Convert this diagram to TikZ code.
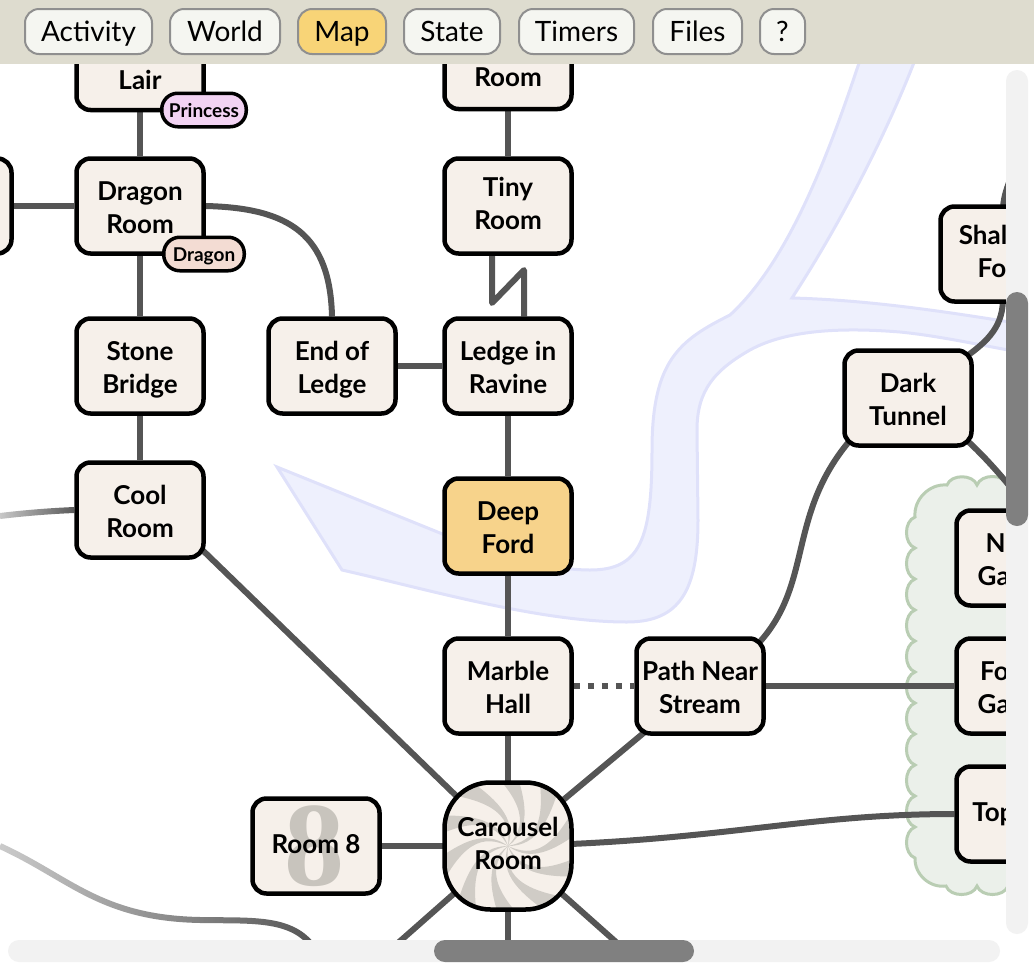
\documentclass[tikz,border=0pt]{standalone}
\usepackage{fontspec}
\setmainfont{Lato}
\newfontfamily\bigdigit{Liberation Serif}
\usetikzlibrary{positioning,calc,fadings}
\definecolor{roomfill}{HTML}{F6F0EA}
\definecolor{herefill}{HTML}{F7D38B}
\definecolor{linkgray}{HTML}{555555}
\definecolor{barfill}{HTML}{DEDCCF}
\definecolor{tabfill}{HTML}{F5F6F1}
\definecolor{tabedge}{HTML}{8F8F8F}
\definecolor{tabhere}{HTML}{F8D477}
\definecolor{tagpink}{HTML}{F2D3F3}
\definecolor{tagrose}{HTML}{F3DCD3}
\definecolor{riverfill}{HTML}{EEF0FD}
\definecolor{riveredge}{HTML}{DFE1FA}
\definecolor{gardenfill}{HTML}{EBF0EA}
\definecolor{gardenedge}{HTML}{B9CDB3}
\definecolor{swirl}{HTML}{D0CCC6}
\definecolor{eightgray}{HTML}{C8C4BD}
\definecolor{trackfill}{HTML}{F2F2F2}
\definecolor{thumbfill}{HTML}{808080}
\tikzfading[name=fadelink,left color=transparent!70,right color=transparent!0]
\pgfdeclarelayer{links}
\pgfsetlayers{links,main}
\tikzset{
  room/.style={draw=black,line width=4.5pt,fill=roomfill,rounded corners=14pt,minimum width=127pt,minimum height=95pt,inner sep=0pt,align=center,text height=58pt,text depth=4pt,font=\fontsize{26}{33}\selectfont\bfseries},
  oneline/.style={text height=22pt,text depth=8pt},
  link/.style={draw=linkgray,line width=6pt},
  tab/.style={draw=tabedge,line width=2pt,fill=tabfill,rounded corners=14pt,minimum height=45pt,inner sep=0pt,text height=25pt,text depth=6pt,font=\fontsize{28}{30}\selectfont},
  tag/.style={draw=black,line width=3.5pt,rounded corners=16pt,minimum height=33.5pt,inner sep=0pt,text height=19pt,text depth=5pt,font=\fontsize{19}{20}\selectfont\bfseries},
}
\begin{document}
\begin{tikzpicture}[x=1pt,y=-1pt]
\useasboundingbox (0,0) rectangle (1034,967);

% Rooms
\node[room] (lair) at (140,62.5) {\phantom{Lg}\\Lair};
\node[room,text depth=8pt] (topleft) at (508,61.5) {\phantom{Lg}\\Room};
\node[room] (west) at (-52,206) {};
\node[room] (dragon) at (140,206) {Dragon\\Room};
\node[room,text depth=12pt] (tiny) at (508,206) {Tiny\\Room};
\node[room] (stone) at (140,366) {Stone\\Bridge};
\node[room] (endledge) at (332,366) {End of\\Ledge};
\node[room] (ledge) at (508,366) {Ledge in\\Ravine};
\node[room] (cool) at (140,510) {Cool\\Room};
\node[room,fill=herefill] (deep) at (508,526) {Deep\\Ford};
\node[room] (marble) at (508,686) {Marble\\Hall};
\node[room] (stream) at (700,686) {Path Near\\Stream};
\node[room] (tunnel) at (908,398) {Dark\\Tunnel};
\node[room,text depth=12pt] (shallow) at (1004,254) {Shal\phantom{low}\\Fo\phantom{rd}};
\node[room] (north) at (1020,558) {N\phantom{orth}\\Ga\phantom{rden}};
\node[room] (forest) at (1020,686) {Fo\phantom{rmal}\\Ga\phantom{rden}};
\node[room,oneline] (topfloor) at (1020,814) {Top\phantom{iary}\hspace*{10pt}};

% Room 8 has its big numeral behind the name
\fill[roomfill,rounded corners=14pt] (252.5,798.5) rectangle (379.5,893.5);
\node[text=eightgray,font=\fontsize{120}{120}\selectfont\bigdigit\bfseries] (bigeight) at (314,846) {8};
\node[room,oneline,fill=none] (eight) at (316,846) {Room 8};

% Carousel has a swirl behind the name
\begin{scope}
\clip[rounded corners=46pt] (444.5,782.5) rectangle (571.5,909.5);
\fill[roomfill] (444.5,782.5) rectangle (571.5,909.5);
\foreach \a in {0,36,...,324}
  \fill[swirl,shift={(508,846)}] (0,0) .. controls (\a:30) and (\a-30:50) .. (\a-55:100) -- (\a-75:100) .. controls (\a-25:48) and (\a-12:26) .. (0,0);
\end{scope}
\node[room,fill=none,minimum height=127pt,rounded corners=46pt,text depth=12pt] (carousel) at (508,846) {Carousel\\Room};

% Things carried by rooms
\node[tag,fill=tagpink,minimum width=84.5pt] (princess) at (204,110) {Princess};
\node[tag,fill=tagrose,minimum width=80.5pt] (dragontag) at (204,254) {Dragon};

\begin{pgfonlayer}{links}
% River and garden go under the links
\draw[fill=riverfill,draw=riveredge,line width=3pt] (277,467) -- (342,570) .. controls (430,590) and (540,622) .. (627,622) .. controls (680,622) and (698,590) .. (698,520) -- (697,430) .. controls (697,390) and (715,370) .. (750,350) .. controls (790,328) and (850,328) .. (900,332) .. controls (950,337) and (1000,350) .. (1040,355) -- (1040,327) .. controls (950,312) and (870,300) .. (792,298) .. controls (830,240) and (880,150) .. (915,60) -- (860,60) .. controls (830,150) and (790,260) .. (730,315) .. controls (680,340) and (652,360) .. (652,450) .. controls (652,540) and (640,570) .. (590,570) .. controls (560,570) and (500,560) .. (445,535) -- cycle;
\draw[fill=gardenfill,draw=gardenedge,line width=3pt] (1070,485) foreach \gx in {1039,1008,977,947} {to[bend right=70] (\gx,485)} to[bend right=50] (915,517) foreach \gy in {548,579,610,641,672,703,734,765,796,827,858} {to[bend right=70] (915,\gy)} to[bend right=50] (946,886) foreach \gx in {977,1008,1039,1070} {to[bend right=70] (\gx,886)} -- cycle;

% Straight links
\draw[link] (lair) -- (dragon);
\draw[link] (west) -- (dragon);
\draw[link] (dragon) -- (stone);
\draw[link] (stone) -- (cool);
\draw[link] (topleft) -- (tiny);
\draw[link] (endledge) -- (ledge);
\draw[link] (ledge) -- (deep);
\draw[link] (deep) -- (marble);
\draw[link] (marble) -- (carousel.center);
\draw[link] (stream.center) -- (carousel.center);
\coordinate (coolin) at (190,538);
\draw[link] (coolin) -- (carousel.center);
\draw[link] (eight) -- (carousel.center);
\draw[link] (stream) -- (forest);
\draw[link,dash pattern=on 6pt off 8pt] (marble) -- (stream);

% Spokes and ends that run off the view
\coordinate (spokea) at (390,950);
\coordinate (spokeb) at (508,950);
\coordinate (spokec) at (625,950);
\coordinate (tunnelend) at (1012,489);
\coordinate (shallowend) at (1010,180);
\coordinate (shallowtop) at (1003,210);
\coordinate (shallowfoot) at (1003,298);
\coordinate (coolend) at (0,516);
\coordinate (farend) at (0,846);
\coordinate (farendb) at (312,945);
\draw[link] (carousel.center) -- (spokea);
\draw[link] (carousel.center) -- (spokeb);
\draw[link] (carousel.center) -- (spokec);

% Curved links
\draw[link] (dragon.east) .. controls (290,208) and (330,235) .. (endledge.north);
\draw[link] (carousel.center) .. controls (720,842) and (800,814) .. (topfloor.west);
\draw[link] ($(stream.north east)+(-10,10)$) .. controls (815,585) and (785,515) .. ($(tunnel.south west)+(10,-10)$);
\draw[link] ($(tunnel.north east)+(-10,10)$) .. controls (990,340) and (1003,325) .. (shallowfoot);
\draw[link] ($(tunnel.south east)+(-10,-10)$) .. controls (975,447) and (995,468) .. (tunnelend);
\draw[link] (shallowtop) .. controls (1003,200) and (1006,190) .. (shallowend);
\coordinate (ziga) at (492,303);
\coordinate (zigb) at (524,270);
\draw[link,line join=round] (tiny.south -| ziga) -- (ziga) -- (zigb) -- (ledge.north -| zigb);

% Links that fade out
\draw[link,path fading=fadelink] (coolend) .. controls (25,513) and (50,511) .. (cool.west);
\draw[link,path fading=fadelink] (farend) .. controls (70,878) and (100,918) .. (200,920) .. controls (250,921) and (290,917) .. (farendb);
\end{pgfonlayer}

% Toolbar and scrollbars over the map
\fill[white] (1006,0) rectangle (1034,967);
\fill[white] (0,940) rectangle (1034,967);
\fill[trackfill,rounded corners=11pt] (1006,70) rectangle (1028,934);
\fill[thumbfill,rounded corners=11pt] (1006,292) rectangle (1028,526);
\fill[trackfill,rounded corners=11pt] (8,940) rectangle (1000,962);
\fill[thumbfill,rounded corners=11pt] (434,940) rectangle (694,962);
\fill[barfill] (0,0) rectangle (1034,64);
\node[tab,minimum width=127pt] (activity) at (88.5,31.5) {Activity};
\node[tab,minimum width=110pt] (world) at (225,31.5) {World};
\node[tab,minimum width=88pt,fill=tabhere] (map) at (342,31.5) {Map};
\node[tab,minimum width=96pt] (state) at (452,31.5) {State};
\node[tab,minimum width=115pt] (timers) at (576.5,31.5) {Timers};
\node[tab,minimum width=89pt] (files) at (697.5,31.5) {Files};
\node[tab,minimum width=45pt] (help) at (782.5,31.5) {?};
\end{tikzpicture}
\end{document}
